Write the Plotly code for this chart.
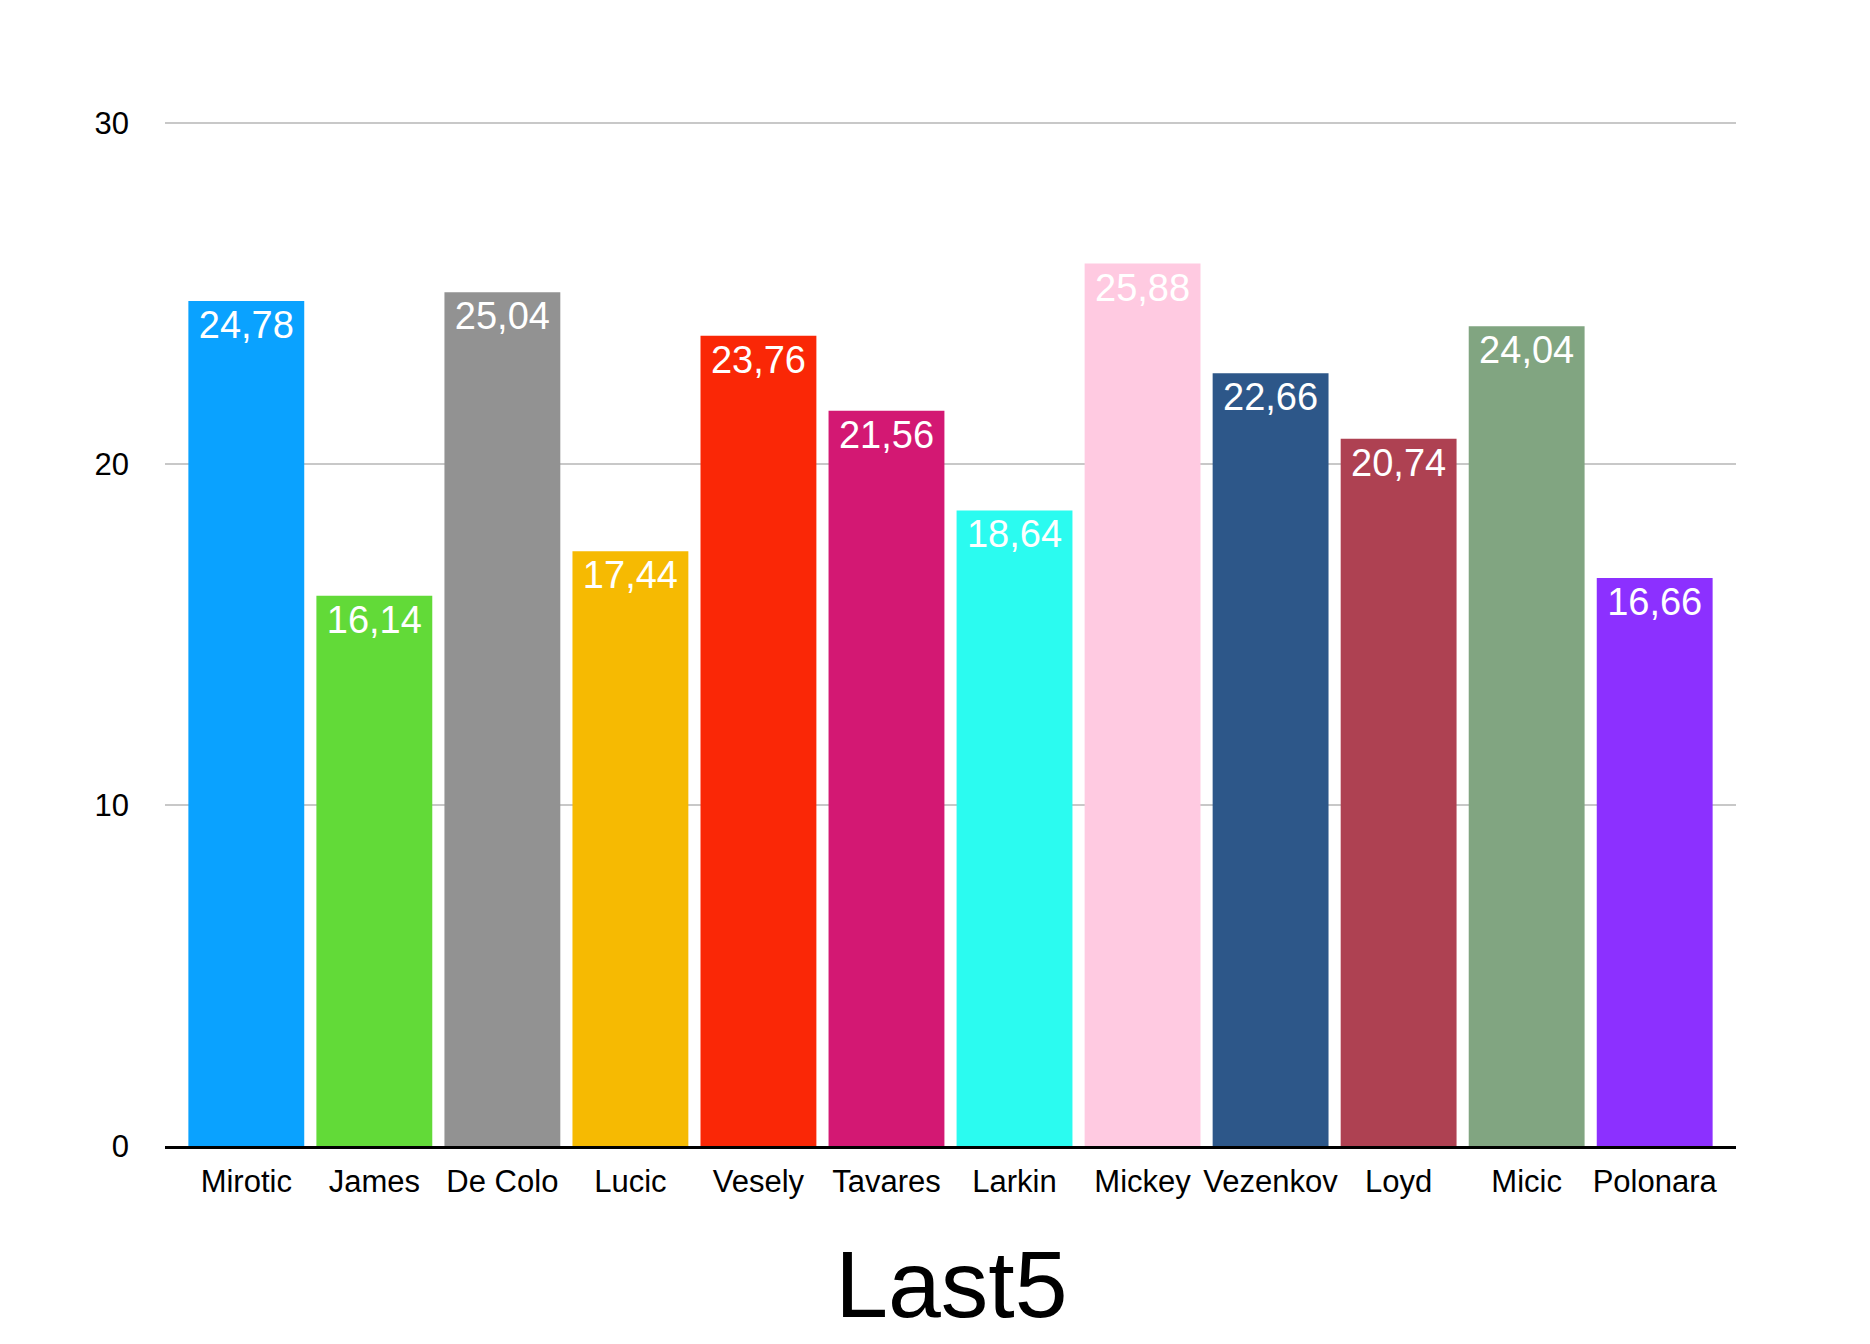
import plotly.graph_objects as go

players = ['Mirotic', 'James', 'De Colo', 'Lucic', 'Vesely', 'Tavares',
           'Larkin', 'Mickey', 'Vezenkov', 'Loyd', 'Micic', 'Polonara']
last5 = [24.78, 16.14, 25.04, 17.44, 23.76, 21.56,
         18.64, 25.88, 22.66, 20.74, 24.04, 16.66]
bar_colors = ['#0AA2FF', '#62DA38', '#929292', '#F6BA02', '#FA2706', '#D31873',
              '#2BFBF0', '#FFCAE1', '#2D5789', '#AE4152', '#81A581', '#8C30FF']
y_ticks = [0, 10, 20, 30]

# labels use a decimal comma, like the source
labels = [f'{v:.2f}'.replace('.', ',') for v in last5]

font = 'Helvetica, Liberation Sans, Arial, sans-serif'

fig = go.Figure()
fig.add_trace(go.Bar(
    x=players, y=last5,
    marker=dict(color=bar_colors, line=dict(width=0)),
    text=labels,
    textposition='inside',
    insidetextanchor='end',
    textangle=0,
    textfont=dict(family=font, size=38, color='white'),
    hoverinfo='x+y',
))

fig.update_layout(
    width=1870, height=1344,
    margin=dict(l=157, r=142, t=113, b=206),
    paper_bgcolor='white', plot_bgcolor='white',
    bargap=0.095,
    showlegend=False,
    font=dict(family=font, color='black'),
    title=dict(text='Last5', x=0.5045, xanchor='center',
               y=1 - 1276 / 1344, yanchor='middle', yref='container',
               font=dict(family=font, size=95, color='black')),
)

fig.update_xaxes(
    range=[-0.635, 11.635],
    showgrid=False, ticks='',
    showline=True, linecolor='black', linewidth=3,
    tickfont=dict(family=font, size=31, color='black'),
    ticklabelstandoff=6,
)
fig.update_yaxes(
    range=[0, 30.06],
    tickvals=y_ticks,
    showgrid=True, gridcolor='#C8C8C8', gridwidth=1.5,
    zeroline=False, showline=False, ticks='',
    tickfont=dict(family=font, size=31, color='black'),
    ticklabelstandoff=35,
)

fig.write_html("out.html")
